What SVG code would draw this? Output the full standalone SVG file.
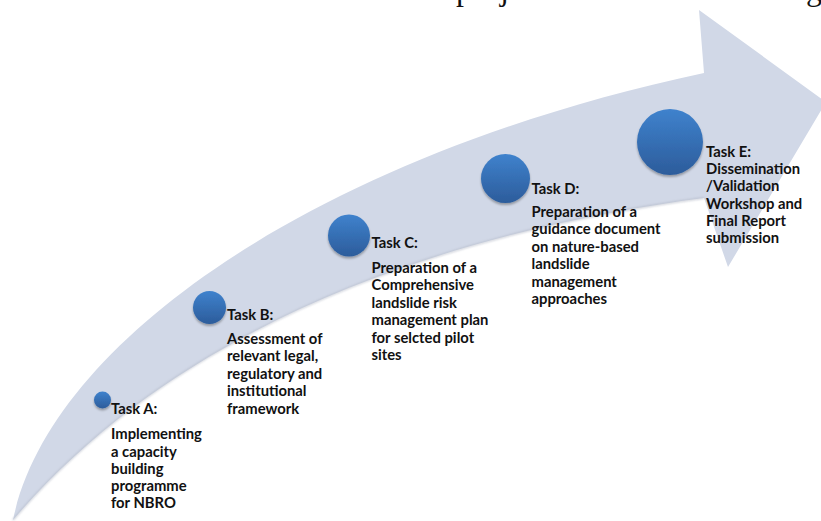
<svg xmlns="http://www.w3.org/2000/svg" width="821" height="521" viewBox="0 0 821 521">
  <style>
    .lbl { font-family: Lato, "Open Sans", "Liberation Sans", sans-serif; font-weight: 700; font-size: 14.8px; fill: #111; }
    .top { font-family: "Liberation Serif", "Times New Roman", serif; font-size: 32px; fill: #111; }
  </style>
  <defs>
    <linearGradient id="ball" x1="0" y1="0" x2="0" y2="1">
      <stop offset="0" stop-color="#3f82cd"/>
      <stop offset="1" stop-color="#2c5c9b"/>
    </linearGradient>
    <filter id="soft" x="-20%" y="-20%" width="140%" height="140%">
      <feGaussianBlur stdDeviation="0.8"/>
    </filter>
    <filter id="drop" x="-30%" y="-30%" width="160%" height="170%">
      <feGaussianBlur in="SourceAlpha" stdDeviation="1.2"/>
      <feOffset dy="1.5" result="b"/>
      <feFlood flood-color="#000" flood-opacity="0.3"/>
      <feComposite in2="b" operator="in"/>
      <feMerge><feMergeNode/><feMergeNode in="SourceGraphic"/></feMerge>
    </filter>
  </defs>

  <rect width="821" height="521" fill="#fff"/>

  <!-- descenders of the heading line running off the top edge -->
  <text class="top" y="-0.5"><tspan x="456">p</tspan><tspan x="500">j</tspan><tspan x="806">g</tspan></text>

  <!-- curved progress arrow -->
  <g id="connectors">
    <path d="M13,520 C50,340 320,155 704,73 L699,10 L826,102 L728,267 L704,198 C500,225 200,300 13,520 Z" fill="#d1d8e7"/>
    <path d="M704,198 C500,225 200,300 13,520" fill="none" stroke="#aeb4c2" stroke-width="1.4" filter="url(#soft)" opacity="0.8"/>
  </g>

  <g id="taskA">
    <circle cx="102.5" cy="400" r="8.5" fill="url(#ball)" filter="url(#drop)"/>
    <text class="lbl" x="111" y="414">Task A:</text>
    <text class="lbl">
      <tspan x="111" y="439.3">Implementing</tspan>
      <tspan x="111" y="456.5">a capacity</tspan>
      <tspan x="111" y="473.8">building</tspan>
      <tspan x="111" y="491">programme</tspan>
      <tspan x="111" y="508.3">for NBRO</tspan>
    </text>
  </g>

  <g id="taskB">
    <circle cx="209.5" cy="307.5" r="16.5" fill="url(#ball)" filter="url(#drop)"/>
    <text class="lbl" x="227" y="320">Task B:</text>
    <text class="lbl">
      <tspan x="227" y="344">Assessment of</tspan>
      <tspan x="227" y="361.4">relevant legal,</tspan>
      <tspan x="227" y="378.8">regulatory and</tspan>
      <tspan x="227" y="396.2">institutional</tspan>
      <tspan x="227" y="413.6">framework</tspan>
    </text>
  </g>

  <g id="taskC">
    <circle cx="349" cy="235.5" r="21" fill="url(#ball)" filter="url(#drop)"/>
    <text class="lbl" x="371.5" y="248">Task C:</text>
    <text class="lbl">
      <tspan x="371.5" y="273">Preparation of a</tspan>
      <tspan x="371.5" y="290.4">Comprehensive</tspan>
      <tspan x="371.5" y="307.8">landslide risk</tspan>
      <tspan x="371.5" y="325.2">management plan</tspan>
      <tspan x="371.5" y="342.6">for selcted pilot</tspan>
      <tspan x="371.5" y="360">sites</tspan>
    </text>
  </g>

  <g id="taskD">
    <circle cx="505.5" cy="178.5" r="24.5" fill="url(#ball)" filter="url(#drop)"/>
    <text class="lbl" x="531.5" y="194">Task D:</text>
    <text class="lbl">
      <tspan x="531.5" y="216.7">Preparation of a</tspan>
      <tspan x="531.5" y="234.2">guidance document</tspan>
      <tspan x="531.5" y="251.7">on nature-based</tspan>
      <tspan x="531.5" y="269.2">landslide</tspan>
      <tspan x="531.5" y="286.7">management</tspan>
      <tspan x="531.5" y="304.2">approaches</tspan>
    </text>
  </g>

  <g id="taskE">
    <circle cx="670" cy="142" r="33" fill="url(#ball)" filter="url(#drop)"/>
    <text class="lbl">
      <tspan x="706" y="156.7">Task E:</tspan>
      <tspan x="706" y="174">Dissemination</tspan>
      <tspan x="706" y="191.3">/Validation</tspan>
      <tspan x="706" y="208.6">Workshop and</tspan>
      <tspan x="706" y="225.9">Final Report</tspan>
      <tspan x="706" y="243.2">submission</tspan>
    </text>
  </g>
</svg>
